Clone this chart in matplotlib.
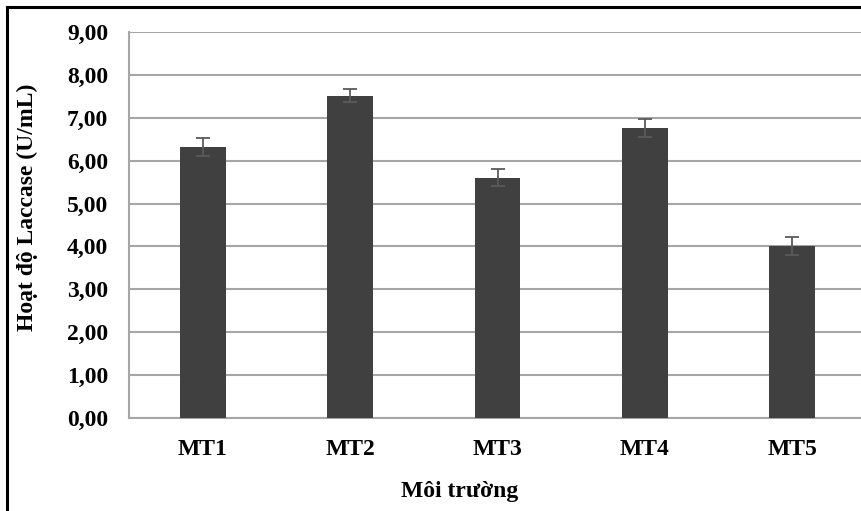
import matplotlib
matplotlib.use("Agg")
import matplotlib.pyplot as plt
from matplotlib.lines import Line2D

categories = ["MT1", "MT2", "MT3", "MT4", "MT5"]
activity = [6.32, 7.51, 5.60, 6.76, 4.00]
errors = [0.22, 0.15, 0.20, 0.20, 0.21]
y_ticks = [0, 1, 2, 3, 4, 5, 6, 7, 8, 9]

plt.rcParams['font.family'] = ['Liberation Serif', 'DejaVu Serif']
plt.rcParams['font.weight'] = 'bold'

fig = plt.figure(figsize=(8.62, 5.11), dpi=100)
ax = fig.add_axes([129 / 862, 1 - 418 / 511, 737 / 862, 386 / 511])

x = list(range(len(categories)))
ax.bar(x, activity, width=0.31, color='#404040', zorder=3)
ax.errorbar(x, activity, yerr=errors, fmt='none', ecolor='#5a5a5a',
            elinewidth=1.3, capsize=5, capthick=1.3, zorder=4)

ax.set_xlim(-0.5, len(categories) - 0.5)
ax.set_ylim(0, 9)
ax.set_yticks(y_ticks)
ax.set_yticklabels([f"{v:.2f}".replace('.', ',') for v in y_ticks])
ax.set_xticks(x)
ax.set_xticklabels(categories)
ax.tick_params(axis='both', length=0, labelsize=17)
ax.tick_params(axis='y', pad=15)
ax.tick_params(axis='x', pad=15)
ax.grid(axis='y', color='#a6a6a6', linewidth=1.5, zorder=0)

for side in ['top', 'right']:
    ax.spines[side].set_visible(False)
ax.spines['left'].set_color('#a6a6a6')
ax.spines['left'].set_linewidth(1.5)
ax.spines['bottom'].set_color('#a6a6a6')
ax.spines['bottom'].set_linewidth(1.5)

ax.set_ylabel("Hoạt độ Laccase (U/mL)", fontsize=17, fontweight='bold')
ax.set_xlabel("Môi trường", fontsize=17, fontweight='bold')
ax.yaxis.set_label_coords(-91 / 737, 0.547)
ax.xaxis.set_label_coords(0.449, -63 / 386)

# outer chart frame (only left and top edges are inside the picture)
fig.add_artist(Line2D([7.5 / 862, 7.5 / 862], [0, 1 - 7 / 511],
                      transform=fig.transFigure, color='black', linewidth=2.2))
fig.add_artist(Line2D([7.5 / 862, 1], [1 - 7 / 511, 1 - 7 / 511],
                      transform=fig.transFigure, color='black', linewidth=2.2))

fig.savefig("out.png", dpi=100)
